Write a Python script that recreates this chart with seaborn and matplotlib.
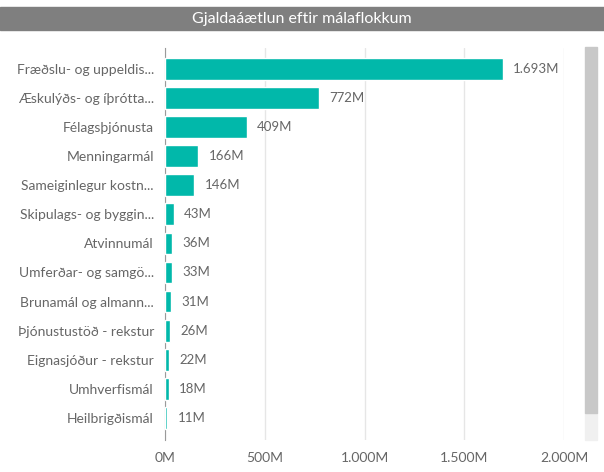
import seaborn as sns
import matplotlib.pyplot as plt
import matplotlib.patches as mpatches
import pandas as pd

# Gjaldaáætlun eftir málaflokkum (milljónir kr.)
flokkar = ["Fræðslu- og uppeldis...", "Æskulýðs- og íþrótta...", "Félagsþjónusta",
           "Menningarmál", "Sameiginlegur kostn...", "Skipulags- og byggin...",
           "Atvinnumál", "Umferðar- og samgö...", "Brunamál og almann...",
           "Þjónustustöð - rekstur", "Eignasjóður - rekstur", "Umhverfismál",
           "Heilbrigðismál"]
gildi = [1693, 772, 409, 166, 146, 43, 36, 33, 31, 26, 22, 18, 11]
x_ticks = [0, 500, 1000, 1500, 2000]
x_tick_labels = ["0M", "500M", "1.000M", "1.500M", "2.000M"]

df = pd.DataFrame({"flokkur": flokkar, "gildi": gildi})

litur = "#01B8AA"
grar = "#666666"

sns.set_style("white")
plt.rcParams['font.family'] = ['Lato', 'DejaVu Sans']

fig = plt.figure(figsize=(6.04, 4.72), dpi=100)
W, H = 604, 472

# titilrönd
fig.patches.append(mpatches.Rectangle((0, 1 - 30 / H), 1, 23 / H, transform=fig.transFigure,
                                      color="#7f7f7f", zorder=0))
fig.text(0.5, 1 - 18.5 / H, "Gjaldaáætlun eftir málaflokkum", color="white",
         ha="center", va="center", fontsize=11.5)

ax = fig.add_axes([165 / W, 1 - 440 / H, (564 - 165) / W, (440 - 48) / H])
sns.barplot(data=df, x="gildi", y="flokkur", color=litur, width=0.75, ax=ax,
            saturation=1, zorder=3)

ax.set_xlim(0, 2000)
ax.set_ylim(12.76, -0.72)
ax.set_xticks(x_ticks)
ax.set_xticklabels(x_tick_labels)
ax.grid(axis="x", color="#e6e6e6", linewidth=1, zorder=0)
ax.set_xlabel("")
ax.set_ylabel("")
for s in ["top", "right", "bottom"]:
    ax.spines[s].set_visible(False)
ax.spines["left"].set_color("#9a9a9a")
ax.spines["left"].set_linewidth(0.8)
ax.tick_params(axis="y", length=0, colors=grar, labelsize=10, pad=8)
ax.tick_params(axis="x", length=0, colors=grar, labelsize=10, pad=9)

for i, v in enumerate(gildi):
    lab = f"{v:,}M".replace(",", ".")
    ax.text(max(v, 8) + 52, i, lab, va="center", ha="left", color=grar, fontsize=9.5)

# skrunstika
fig.patches.append(mpatches.Rectangle((585 / W, 1 - 440 / H), 12 / W, 27 / H,
                                      transform=fig.transFigure, color="#f0f0f0"))
fig.patches.append(mpatches.Rectangle((585 / W, 1 - 413 / H), 12 / W, 366 / H,
                                      transform=fig.transFigure, color="#c8c8c8"))

plt.savefig("out.png", dpi=100)
